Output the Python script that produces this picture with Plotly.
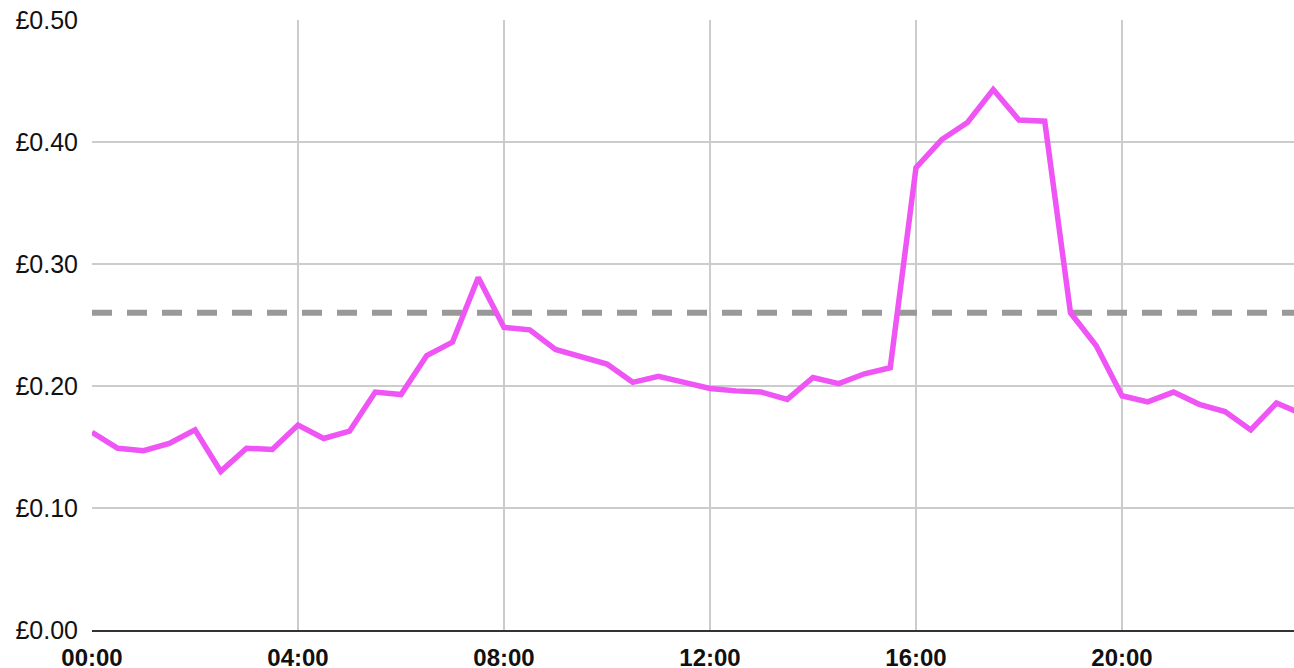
import plotly.graph_objects as go

times = [f"{h:02d}:{m:02d}" for h in range(24) for m in (0, 30)]
prices = [0.162, 0.149, 0.147, 0.153, 0.164, 0.130, 0.149, 0.148,
          0.168, 0.157, 0.163, 0.195, 0.193, 0.225, 0.236, 0.289,
          0.248, 0.246, 0.230, 0.224, 0.218, 0.203, 0.208, 0.203,
          0.198, 0.196, 0.195, 0.189, 0.207, 0.202, 0.210, 0.215,
          0.379, 0.402, 0.416, 0.443, 0.418, 0.417, 0.260, 0.233,
          0.192, 0.187, 0.195, 0.185, 0.179, 0.164, 0.186, 0.177]
average_price = 0.26
x_tick_labels = ["00:00", "04:00", "08:00", "12:00", "16:00", "20:00"]
y_tick_values = [0.0, 0.1, 0.2, 0.3, 0.4, 0.5]
y_tick_labels = ["£0.00", "£0.10", "£0.20", "£0.30", "£0.40", "£0.50"]

idx = list(range(len(times)))
tick_idx = [times.index(t) for t in x_tick_labels]

fig = go.Figure()
fig.add_trace(go.Scatter(x=[idx[0], idx[-1]], y=[average_price, average_price],
                         mode="lines", line=dict(color="#999999", width=6, dash="20px,15px"),
                         hoverinfo="skip", showlegend=False))
fig.add_trace(go.Scatter(x=idx, y=prices, mode="lines",
                         line=dict(color="#EE55F4", width=5.5),
                         showlegend=False))

fig.update_layout(
    width=1294, height=668,
    margin=dict(l=92, r=0, t=20, b=38, autoexpand=False),
    paper_bgcolor="white", plot_bgcolor="white",
    font=dict(family="Liberation Sans, Arial, sans-serif", color="#111111"),
)
fig.update_xaxes(
    range=[0, 46.68], tickmode="array", tickvals=tick_idx, ticktext=x_tick_labels,
    showgrid=True, gridcolor="#cccccc", gridwidth=1.5,
    showline=True, linecolor="#333333", linewidth=2,
    zeroline=False, ticks="", ticklabelstandoff=5, automargin=False,
    tickfont=dict(size=24, family="Liberation Sans", weight="bold", color="#111111"),
)
fig.update_yaxes(
    range=[0, 0.5], tickmode="array", tickvals=y_tick_values, ticktext=y_tick_labels,
    showgrid=True, gridcolor="#cccccc", gridwidth=1.5,
    zeroline=False, showline=False, ticks="", ticklabelstandoff=13, automargin=False,
    tickfont=dict(size=25, color="#111111"),
)

fig.write_html(
    "out.html",
    config={"displayModeBar": False},
    post_script="document.body.style.margin='0';document.body.style.overflow='hidden';",
)
